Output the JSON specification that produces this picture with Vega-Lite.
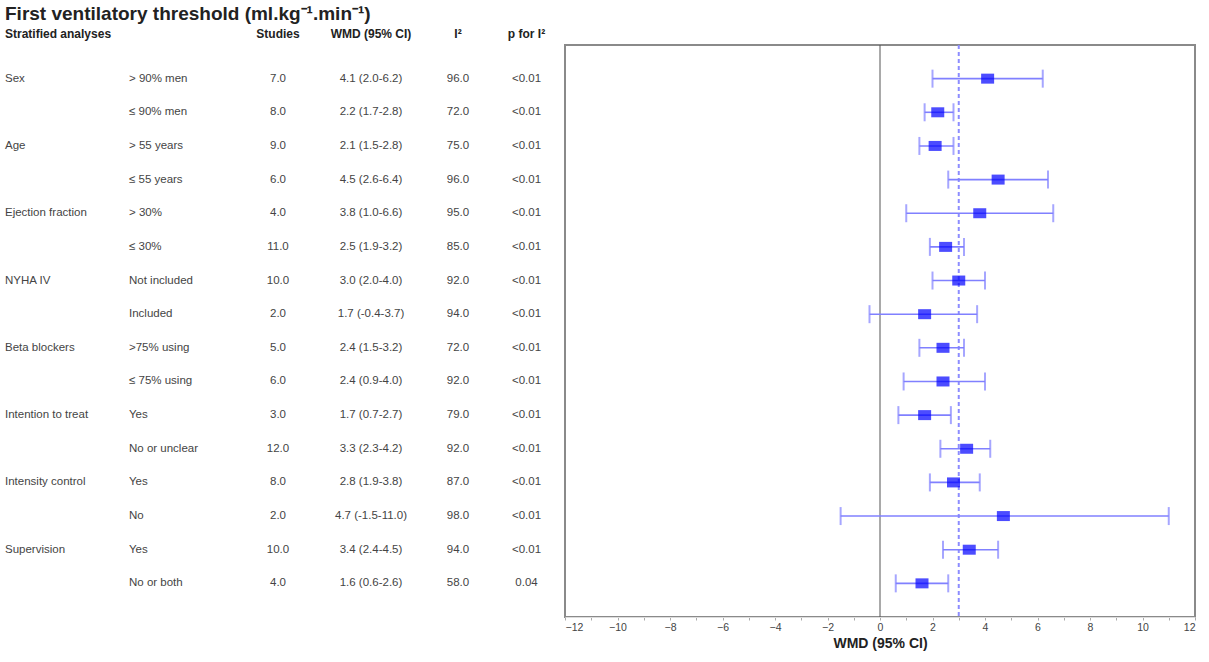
{
  "$schema": "https://vega.github.io/schema/vega-lite/v6.json",
  "title": {"text": "First ventilatory threshold (ml.kg⁻¹.min⁻¹)", "fontSize": 19, "fontWeight": "bold", "color": "#222", "font": "Liberation Sans"},
  "spacing": 0,
  "config": {"view": {"stroke": null}, "font": "Liberation Sans"},
  "data": {
    "values": [
      {"order": 1, "group": "Sex", "sub": "> 90% men", "studies": "7.0", "wmd": "4.1 (2.0-6.2)", "est": 4.1, "lo": 2.0, "hi": 6.2, "i2": "96.0", "p": "<0.01"},
      {"order": 2, "group": "", "sub": "≤ 90% men", "studies": "8.0", "wmd": "2.2 (1.7-2.8)", "est": 2.2, "lo": 1.7, "hi": 2.8, "i2": "72.0", "p": "<0.01"},
      {"order": 3, "group": "Age", "sub": "> 55 years", "studies": "9.0", "wmd": "2.1 (1.5-2.8)", "est": 2.1, "lo": 1.5, "hi": 2.8, "i2": "75.0", "p": "<0.01"},
      {"order": 4, "group": "", "sub": "≤ 55 years", "studies": "6.0", "wmd": "4.5 (2.6-6.4)", "est": 4.5, "lo": 2.6, "hi": 6.4, "i2": "96.0", "p": "<0.01"},
      {"order": 5, "group": "Ejection fraction", "sub": "> 30%", "studies": "4.0", "wmd": "3.8 (1.0-6.6)", "est": 3.8, "lo": 1.0, "hi": 6.6, "i2": "95.0", "p": "<0.01"},
      {"order": 6, "group": "", "sub": "≤ 30%", "studies": "11.0", "wmd": "2.5 (1.9-3.2)", "est": 2.5, "lo": 1.9, "hi": 3.2, "i2": "85.0", "p": "<0.01"},
      {"order": 7, "group": "NYHA IV", "sub": "Not included", "studies": "10.0", "wmd": "3.0 (2.0-4.0)", "est": 3.0, "lo": 2.0, "hi": 4.0, "i2": "92.0", "p": "<0.01"},
      {"order": 8, "group": "", "sub": "Included", "studies": "2.0", "wmd": "1.7 (-0.4-3.7)", "est": 1.7, "lo": -0.4, "hi": 3.7, "i2": "94.0", "p": "<0.01"},
      {"order": 9, "group": "Beta blockers", "sub": ">75% using", "studies": "5.0", "wmd": "2.4 (1.5-3.2)", "est": 2.4, "lo": 1.5, "hi": 3.2, "i2": "72.0", "p": "<0.01"},
      {"order": 10, "group": "", "sub": "≤ 75% using", "studies": "6.0", "wmd": "2.4 (0.9-4.0)", "est": 2.4, "lo": 0.9, "hi": 4.0, "i2": "92.0", "p": "<0.01"},
      {"order": 11, "group": "Intention to treat", "sub": "Yes", "studies": "3.0", "wmd": "1.7 (0.7-2.7)", "est": 1.7, "lo": 0.7, "hi": 2.7, "i2": "79.0", "p": "<0.01"},
      {"order": 12, "group": "", "sub": "No or unclear", "studies": "12.0", "wmd": "3.3 (2.3-4.2)", "est": 3.3, "lo": 2.3, "hi": 4.2, "i2": "92.0", "p": "<0.01"},
      {"order": 13, "group": "Intensity control", "sub": "Yes", "studies": "8.0", "wmd": "2.8 (1.9-3.8)", "est": 2.8, "lo": 1.9, "hi": 3.8, "i2": "87.0", "p": "<0.01"},
      {"order": 14, "group": "", "sub": "No", "studies": "2.0", "wmd": "4.7 (-1.5-11.0)", "est": 4.7, "lo": -1.5, "hi": 11.0, "i2": "98.0", "p": "<0.01"},
      {"order": 15, "group": "Supervision", "sub": "Yes", "studies": "10.0", "wmd": "3.4 (2.4-4.5)", "est": 3.4, "lo": 2.4, "hi": 4.5, "i2": "94.0", "p": "<0.01"},
      {"order": 16, "group": "", "sub": "No or both", "studies": "4.0", "wmd": "1.6 (0.6-2.6)", "est": 1.6, "lo": 0.6, "hi": 2.6, "i2": "58.0", "p": "0.04"}
    ]
  },
  "hconcat": [
    {
      "width": 124, "height": 572,
      "title": {"text": "Stratified analyses", "anchor": "start", "fontSize": 12, "fontWeight": "bold", "color": "#222"},
      "mark": {"type": "text", "align": "left", "fontSize": 11.5, "color": "#444"},
      "encoding": {
        "x": {"value": 0},
        "y": {"field": "order", "type": "ordinal", "scale": {"type": "point", "padding": 1.25}, "axis": null},
        "text": {"field": "group", "type": "nominal"}
      }
    },
    {
      "width": 111, "height": 572,
      "mark": {"type": "text", "align": "left", "fontSize": 11.5, "color": "#444"},
      "encoding": {
        "x": {"value": 0},
        "y": {"field": "order", "type": "ordinal", "scale": {"type": "point", "padding": 1.25}, "axis": null},
        "text": {"field": "sub", "type": "nominal"}
      }
    },
    {
      "width": 76, "height": 572,
      "title": {"text": "Studies", "fontSize": 12, "fontWeight": "bold", "color": "#222"},
      "mark": {"type": "text", "fontSize": 11.5, "color": "#444"},
      "encoding": {
        "y": {"field": "order", "type": "ordinal", "scale": {"type": "point", "padding": 1.25}, "axis": null},
        "text": {"field": "studies", "type": "nominal"}
      }
    },
    {
      "width": 110, "height": 572,
      "title": {"text": "WMD (95% CI)", "fontSize": 12, "fontWeight": "bold", "color": "#222"},
      "mark": {"type": "text", "fontSize": 11.5, "color": "#444"},
      "encoding": {
        "y": {"field": "order", "type": "ordinal", "scale": {"type": "point", "padding": 1.25}, "axis": null},
        "text": {"field": "wmd", "type": "nominal"}
      }
    },
    {
      "width": 64, "height": 572,
      "title": {"text": "I²", "fontSize": 12, "fontWeight": "bold", "color": "#222"},
      "mark": {"type": "text", "fontSize": 11.5, "color": "#444"},
      "encoding": {
        "y": {"field": "order", "type": "ordinal", "scale": {"type": "point", "padding": 1.25}, "axis": null},
        "text": {"field": "i2", "type": "nominal"}
      }
    },
    {
      "width": 73, "height": 572,
      "title": {"text": "p for I²", "fontSize": 12, "fontWeight": "bold", "color": "#222"},
      "mark": {"type": "text", "fontSize": 11.5, "color": "#444"},
      "encoding": {
        "y": {"field": "order", "type": "ordinal", "scale": {"type": "point", "padding": 1.25}, "axis": null},
        "text": {"field": "p", "type": "nominal"}
      }
    },
    {
      "width": 630, "height": 572,
      "view": {"stroke": "#8a8a8a", "strokeWidth": 2},
      "layer": [
        {
          "data": {"values": [{"line": "no effect", "ref": 0}]},
          "mark": {"type": "rule", "color": "#555555", "strokeWidth": 1},
          "encoding": {
            "x": {"field": "ref", "type": "quantitative", "title": "WMD (95% CI)", "scale": {"domain": [-12, 12], "nice": false},
              "axis": {"values": [-12, -11, -10, -9, -8, -7, -6, -5, -4, -3, -2, -1, 0, 1, 2, 3, 4, 5, 6, 7, 8, 9, 10, 11, 12], "grid": false, "titleFontSize": 14, "titleFontWeight": "bold", "titleColor": "#222", "labelFontSize": 10.5, "labelColor": "#444", "domainColor": "#dddddd", "tickColor": "#aaaaaa", "tickSize": 3}}
          }
        },
        {
          "data": {"values": [{"line": "pooled", "ref": 3.0}]},
          "mark": {"type": "rule", "color": "#8c8cff", "strokeWidth": 2, "strokeDash": [4, 3]},
          "encoding": {
            "x": {"field": "ref", "type": "quantitative", "title": "WMD (95% CI)", "scale": {"domain": [-12, 12], "nice": false},
              "axis": {"values": [-12, -11, -10, -9, -8, -7, -6, -5, -4, -3, -2, -1, 0, 1, 2, 3, 4, 5, 6, 7, 8, 9, 10, 11, 12], "grid": false, "titleFontSize": 14, "titleFontWeight": "bold", "titleColor": "#222", "labelFontSize": 10.5, "labelColor": "#444", "domainColor": "#dddddd", "tickColor": "#aaaaaa", "tickSize": 3}}
          }
        },
        {
          "mark": {"type": "rule", "color": "#8080ff", "strokeWidth": 1.6},
          "encoding": {
            "x": {"field": "lo", "type": "quantitative", "title": "WMD (95% CI)", "scale": {"domain": [-12, 12], "nice": false},
              "axis": {"values": [-12, -11, -10, -9, -8, -7, -6, -5, -4, -3, -2, -1, 0, 1, 2, 3, 4, 5, 6, 7, 8, 9, 10, 11, 12], "grid": false, "titleFontSize": 14, "titleFontWeight": "bold", "titleColor": "#222", "labelFontSize": 10.5, "labelColor": "#444", "domainColor": "#dddddd", "tickColor": "#aaaaaa", "tickSize": 3}},
            "x2": {"field": "hi"},
            "y": {"field": "order", "type": "ordinal", "scale": {"type": "point", "padding": 1.25}, "axis": null}
          }
        },
        {
          "mark": {"type": "tick", "color": "#8080ff", "size": 18, "thickness": 2},
          "encoding": {
            "x": {"field": "lo", "type": "quantitative", "title": "WMD (95% CI)", "scale": {"domain": [-12, 12], "nice": false},
              "axis": {"values": [-12, -11, -10, -9, -8, -7, -6, -5, -4, -3, -2, -1, 0, 1, 2, 3, 4, 5, 6, 7, 8, 9, 10, 11, 12], "grid": false, "titleFontSize": 14, "titleFontWeight": "bold", "titleColor": "#222", "labelFontSize": 10.5, "labelColor": "#444", "domainColor": "#dddddd", "tickColor": "#aaaaaa", "tickSize": 3}},
            "y": {"field": "order", "type": "ordinal", "scale": {"type": "point", "padding": 1.25}, "axis": null}
          }
        },
        {
          "mark": {"type": "tick", "color": "#8080ff", "size": 18, "thickness": 2},
          "encoding": {
            "x": {"field": "hi", "type": "quantitative", "title": "WMD (95% CI)", "scale": {"domain": [-12, 12], "nice": false},
              "axis": {"values": [-12, -11, -10, -9, -8, -7, -6, -5, -4, -3, -2, -1, 0, 1, 2, 3, 4, 5, 6, 7, 8, 9, 10, 11, 12], "grid": false, "titleFontSize": 14, "titleFontWeight": "bold", "titleColor": "#222", "labelFontSize": 10.5, "labelColor": "#444", "domainColor": "#dddddd", "tickColor": "#aaaaaa", "tickSize": 3}},
            "y": {"field": "order", "type": "ordinal", "scale": {"type": "point", "padding": 1.25}, "axis": null}
          }
        },
        {
          "mark": {"type": "tick", "color": "#0000ff", "size": 10, "thickness": 13},
          "encoding": {
            "x": {"field": "est", "type": "quantitative", "title": "WMD (95% CI)", "scale": {"domain": [-12, 12], "nice": false},
              "axis": {"values": [-12, -11, -10, -9, -8, -7, -6, -5, -4, -3, -2, -1, 0, 1, 2, 3, 4, 5, 6, 7, 8, 9, 10, 11, 12], "grid": false, "titleFontSize": 14, "titleFontWeight": "bold", "titleColor": "#222", "labelFontSize": 10.5, "labelColor": "#444", "domainColor": "#dddddd", "tickColor": "#aaaaaa", "tickSize": 3}},
            "y": {"field": "order", "type": "ordinal", "scale": {"type": "point", "padding": 1.25}, "axis": null}
          }
        }
      ]
    }
  ]
}
